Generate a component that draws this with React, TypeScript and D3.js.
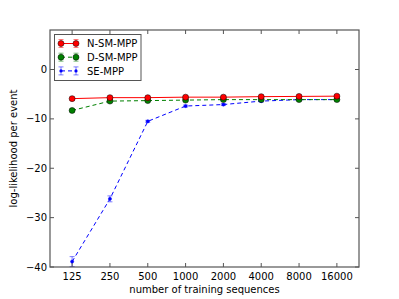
import React from "react";
import * as d3 from "d3";

const sizes = [125, 250, 500, 1000, 2000, 4000, 8000, 16000];
const yTicks = [-40, -30, -20, -10, 0];

const nsmMean = [-5.9, -5.7, -5.7, -5.6, -5.6, -5.5, -5.45, -5.4];
const nsmErr = [0.3, 0.3, 0.3, 0.3, 0.3, 0.3, 0.3, 0.3];
const dsmMean = [-8.3, -6.4, -6.3, -6.2, -6.1, -6.1, -6.1, -6.1];
const dsmErr = [0.25, 0.2, 0.2, 0.2, 0.2, 0.2, 0.2, 0.2];
const seMean = [-38.9, -26.2, -10.5, -7.4, -7.1, -6.4, -6.1, -6.1];
const seErr = [1.0, 0.6, 0.2, 0.2, 0.2, 0.2, 0.2, 0.2];

const seriesNames = ["N-SM-MPP", "D-SM-MPP", "SE-MPP"];

const W = 399, H = 299;
const L = 50, R = 359, T = 30, B = 267;
const FONT = "DejaVu Sans, sans-serif";

export default function App() {
  const x = d3.scaleLog().domain([125 / 1.5, 16000 * 1.5]).range([L, R]);
  const y = d3.scaleLinear().domain([-40, 8]).range([B, T]);

  const series = [
    { name: seriesNames[0], mean: nsmMean, err: nsmErr, color: "#ff0000", dash: "", marker: "o" },
    { name: seriesNames[1], mean: dsmMean, err: dsmErr, color: "#008000", dash: "4,3", marker: "o" },
    { name: seriesNames[2], mean: seMean, err: seErr, color: "#0000ff", dash: "4,3", marker: "." },
  ];

  const line = d3.line<number>().x((_, i) => x(sizes[i])).y((d) => y(d));

  const drawSeries = (s: typeof series[0]) => (
    <g key={s.name}>
      {s.mean.map((m, i) => {
        const cx = x(sizes[i]);
        const y1 = y(m - s.err[i]);
        const y2 = y(m + s.err[i]);
        return (
          <g key={i} stroke={s.color} strokeOpacity={0.5} strokeWidth={1}>
            <line x1={cx} x2={cx} y1={y1} y2={y2} />
            <line x1={cx - 2.5} x2={cx + 2.5} y1={y1} y2={y1} />
            <line x1={cx - 2.5} x2={cx + 2.5} y1={y2} y2={y2} />
          </g>
        );
      })}
      <path d={line(s.mean) || ""} fill="none" stroke={s.color} strokeWidth={1} strokeDasharray={s.dash || undefined} />
      {s.mean.map((m, i) =>
        s.marker === "o" ? (
          <circle key={i} cx={x(sizes[i])} cy={y(m)} r={3} fill={s.color} stroke="#000" strokeWidth={0.5} />
        ) : (
          <circle key={i} cx={x(sizes[i])} cy={y(m)} r={1.6} fill={s.color} stroke={s.color} strokeWidth={0.5} />
        )
      )}
    </g>
  );

  const tickLen = 4;

  return (
    <svg width={W} height={H} style={{ position: "absolute", left: 0, top: 0, background: "#fff" }} fontFamily={FONT}>
      <rect x={0} y={0} width={W} height={H} fill="#fff" />
      {/* series (reverse order so first is on top) */}
      {[...series].reverse().map(drawSeries)}
      {/* frame */}
      <rect x={L} y={T} width={R - L} height={B - T} fill="none" stroke="#555" strokeWidth={1.2} />
      {/* x ticks */}
      {sizes.map((s) => (
        <g key={s}>
          <line x1={x(s)} x2={x(s)} y1={B} y2={B - tickLen} stroke="#555" />
          <line x1={x(s)} x2={x(s)} y1={T} y2={T + tickLen} stroke="#555" />
          <text x={x(s)} y={280} textAnchor="middle" fontSize={10} fill="#000">{s}</text>
        </g>
      ))}
      {yTicks.map((t) => (
        <g key={t}>
          <line x1={L} x2={L + tickLen} y1={y(t)} y2={y(t)} stroke="#555" />
          <line x1={R} x2={R - tickLen} y1={y(t)} y2={y(t)} stroke="#555" />
          <text x={L - 3} y={y(t) + 3.5} textAnchor="end" fontSize={10} fill="#000">
            {t < 0 ? "\u2212" + Math.abs(t) : String(t)}
          </text>
        </g>
      ))}
      <text x={(L + R) / 2} y={293} textAnchor="middle" fontSize={10} fill="#000">number of training sequences</text>
      <text transform={`translate(17,${(T + B) / 2}) rotate(-90)`} textAnchor="middle" fontSize={10} fill="#000">log-likelihood per event</text>
      {/* legend */}
      <rect x={54.5} y={34.5} width={86.5} height={46} fill="#fff" stroke="#555" strokeWidth={1} />
      {series.map((s, i) => {
        const ly = 43.5 + i * 13.7;
        const x1 = 61, x2 = 76;
        return (
          <g key={s.name}>
            {[x1, x2].map((lx) => (
              <g key={lx} stroke={s.color} strokeOpacity={0.5}>
                <line x1={lx} x2={lx} y1={ly - 4} y2={ly + 4} />
                <line x1={lx - 2.5} x2={lx + 2.5} y1={ly - 4} y2={ly - 4} />
                <line x1={lx - 2.5} x2={lx + 2.5} y1={ly + 4} y2={ly + 4} />
              </g>
            ))}
            <line x1={x1} x2={x2} y1={ly} y2={ly} stroke={s.color} strokeDasharray={s.dash || undefined} />
            {[x1, x2].map((lx) =>
              s.marker === "o" ? (
                <circle key={"m" + lx} cx={lx} cy={ly} r={3} fill={s.color} stroke="#000" strokeWidth={0.5} />
              ) : (
                <circle key={"m" + lx} cx={lx} cy={ly} r={1.6} fill={s.color} />
              )
            )}
            <text x={87} y={ly + 3.6} fontSize={10} fill="#000">{s.name}</text>
          </g>
        );
      })}
    </svg>
  );
}
